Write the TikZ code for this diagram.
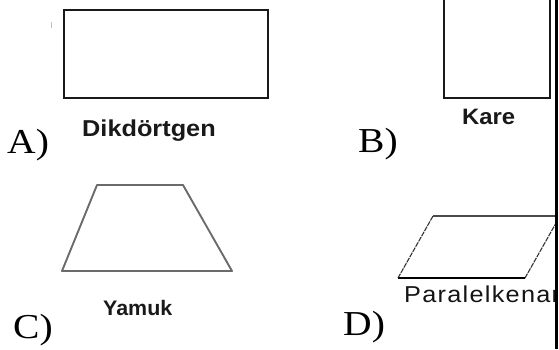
\documentclass[tikz,border=0pt]{standalone}
\usepackage{fontspec}
\setmainfont{Liberation Serif}
\newfontfamily\lblfont{Liberation Sans}
\newfontfamily\spacedfont[LetterSpace=5]{Liberation Sans}
\usepackage{graphicx}
\begin{document}
\begin{tikzpicture}[x=1pt,y=-1pt,
  shapeline/.style={line width=2.2pt, draw=black!90},
  trapline/.style={line width=1.9pt, draw=black!58, line join=round},
  letterlbl/.style={inner sep=0pt, anchor=base west, text=black, font=\fontsize{35}{40}\selectfont},
  namelbl/.style={inner sep=0pt, anchor=base west, text=black!90, font=\lblfont\bfseries\fontsize{#1}{#1}\selectfont}
]
\useasboundingbox (0,0) rectangle (559,349);

% faint mark
\draw[black!25, line width=1pt] (51,22) -- (51,28);

% A) rectangle
\coordinate (rA1) at (64,10);
\coordinate (rA2) at (268,98);
\draw[shapeline] (rA1) rectangle (rA2);
\node[namelbl=23] (nA) at (82,136.5) {\scalebox{1.1}[1]{Dikdörtgen}};
\node[letterlbl] (lA) at (7,153) {\scalebox{1.13}[1]{A)}};

% B) square
\coordinate (sB1) at (444,-4);
\coordinate (sB2) at (550,98);
\draw[shapeline] (sB1) rectangle (sB2);
\node[namelbl=22.3] (nB) at (462,124) {\scalebox{1.07}[1]{Kare}};
\node[letterlbl] (lB) at (358,152) {\scalebox{1.13}[1]{B)}};

% C) trapezoid
\coordinate (tC1) at (62,271);
\coordinate (tC2) at (232,271);
\coordinate (tC3) at (183,185);
\coordinate (tC4) at (97,185);
\draw[trapline] (tC1) -- (tC2) -- (tC3) -- (tC4) -- cycle;
\node[namelbl=21] (nC) at (103,315) {\scalebox{1.02}[1]{Yamuk}};
\node[letterlbl] (lC) at (13,338) {\scalebox{1.13}[1]{C)}};

% D) parallelogram
\coordinate (pD1) at (398,278);
\coordinate (pD2) at (525,278);
\coordinate (pD3) at (560,216);
\coordinate (pD4) at (433,216);
\begin{scope}
\clip (0,0) rectangle (555,349);
\draw[line width=1.3pt, black!70] (pD4) -- (pD3);
\draw[line width=1.1pt, black!80, dash pattern=on 5pt off 1pt] (pD1) -- (pD4);
\draw[line width=1.1pt, black!80, dash pattern=on 5pt off 1pt] (pD2) -- (pD3);
\draw[line width=2.8pt, black] (pD1) -- (pD2);
\node[inner sep=0pt, anchor=base west, text=black!92, font=\spacedfont\fontsize{23}{23}\selectfont] (nD) at (404,302) {\scalebox{1.1}[1]{Paralelkenar}};
\end{scope}
\node[letterlbl] (lD) at (343,335) {\scalebox{1.13}[1]{D)}};

% right black bar
\fill[black] (555,0) rectangle (557.5,349);
\end{tikzpicture}
\end{document}
